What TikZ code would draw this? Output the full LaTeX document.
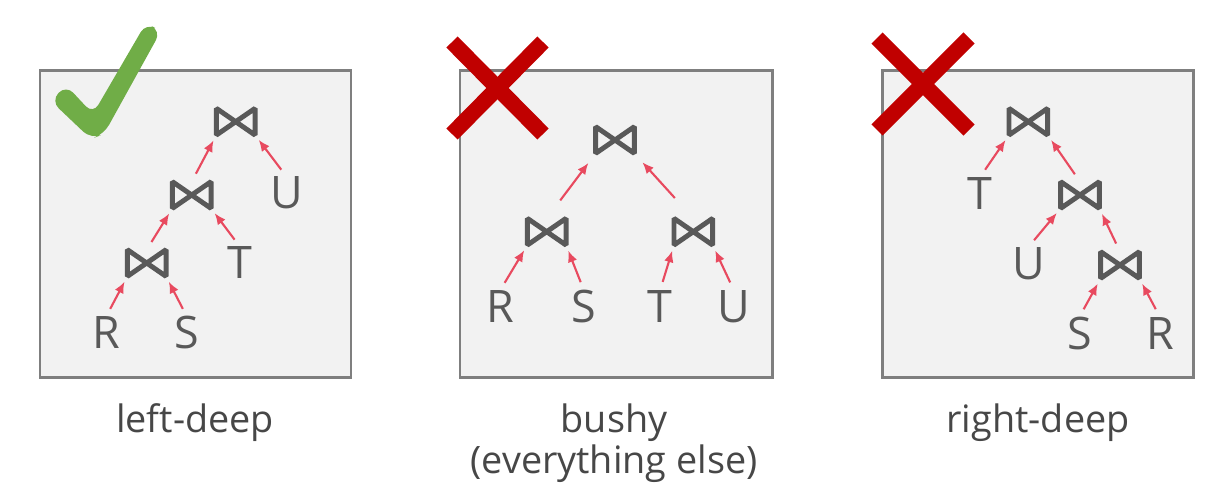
\documentclass[tikz,border=0pt]{standalone}
\usepackage{fontspec}
\setmainfont{Open Sans}
\usetikzlibrary{arrows.meta}

\definecolor{boxgray}{HTML}{F2F2F2}
\definecolor{framegray}{HTML}{7F7F7F}
\definecolor{opgray}{HTML}{595959}
\definecolor{capgray}{HTML}{474747}
\definecolor{feedred}{HTML}{E84A5F}
\definecolor{okgreen}{HTML}{70AD47}
\definecolor{badred}{HTML}{C00000}

\tikzset{
	panel/.style={fill=boxgray, draw=framegray, line width=1.7pt},
	joinop/.style={minimum width=0.76cm, minimum height=0.52cm, inner sep=0pt},
	bowtie/.style={draw=opgray, line width=2.8pt, line join=bevel},
	rel/.style={inner sep=0pt, text height=18pt, text depth=0pt, text=opgray, font=\fontsize{25.5}{26}\selectfont},
	feed/.style={draw=feedred, line width=1.2pt, -{Latex[length=6.5pt,width=5.5pt]}, shorten <=0.18cm, shorten >=0.12cm},
	caption/.style={text=capgray, font=\fontsize{21.5}{23}\selectfont, align=center},
	nope/.style={draw=badred, line width=9pt}
}

\begin{document}
\begin{tikzpicture}[x=0.02cm, y=-0.02cm]
			\useasboundingbox (0,0) rectangle (1210,495);
			\draw[panel] (40,70) rectangle (351,377);
			\draw[panel] (460,70) rectangle (772,377);
			\draw[panel] (882,70) rectangle (1193,377);
			% left-deep
			\node[joinop] (ld1) at (235.7,121.7) {};
			\node[joinop] (ld2) at (191.7,195) {};
			\node[joinop] (ld3) at (146.7,263) {};
			\node[rel] (ldR) at (106,333) {R};
			\node[rel] (ldS) at (187,333) {S};
			\node[rel] (ldT) at (240,263) {T};
			\node[rel] (ldU) at (286.7,193) {U};
			\draw[feed] (ldR.north) -- (ld3.south west);
			\draw[feed] (ldS.north) -- (ld3.south east);
			\draw[feed] (ld3.north) -- (ld2.south west);
			\draw[feed] (ldT.north) -- (ld2.south east);
			\draw[feed] (ld2.north) -- (ld1.south west);
			\draw[feed] (ldU.north) -- (ld1.south east);
			% bushy
			\node[joinop] (bu1) at (615,140) {};
			\node[joinop] (bu2) at (546.7,231.7) {};
			\node[joinop] (bu3) at (693.3,231.7) {};
			\node[rel] (buR) at (500,306.7) {R};
			\node[rel] (buS) at (584,306.7) {S};
			\node[rel] (buT) at (660,306.7) {T};
			\node[rel] (buU) at (734,306.7) {U};
			\draw[feed] (buR.north) -- (bu2.south west);
			\draw[feed] (buS.north) -- (bu2.south east);
			\draw[feed] (buT.north) -- (bu3.south west);
			\draw[feed] (buU.north) -- (bu3.south east);
			\draw[feed, shorten <=0.45cm, shorten >=0.24cm] (bu2.north) -- (bu1.south west);
			\draw[feed, shorten <=0.55cm, shorten >=0.24cm] (bu3.north) -- (bu1.south east);
			% right-deep
			\node[joinop] (rd1) at (1028.3,121.7) {};
			\node[joinop] (rd2) at (1080,195) {};
			\node[joinop] (rd3) at (1120,265) {};
			\node[rel] (rdT) at (980,193.3) {T};
			\node[rel] (rdU) at (1028.3,263.3) {U};
			\node[rel] (rdS) at (1079.3,333.3) {S};
			\node[rel] (rdR) at (1160,333.3) {R};
			\draw[feed] (rdT.north) -- (rd1.south west);
			\draw[feed] (rd2.north) -- (rd1.south east);
			\draw[feed] (rdU.north) -- (rd2.south west);
			\draw[feed] (rd3.north) -- (rd2.south east);
			\draw[feed] (rdS.north) -- (rd3.south west);
			\draw[feed] (rdR.north) -- (rd3.south east);
			% the join symbols
			\foreach \j in {ld1,ld2,ld3,bu1,bu2,bu3,rd1,rd2,rd3}
				\draw[bowtie] (\j.north west) -- (\j.south west) -- (\j.north east) -- (\j.south east) -- cycle;
			% marks
			\fill[okgreen, rounded corners=6pt] (51,101) -- (66,85) -- (93,114) -- (146,23) -- (161,31) -- (104,134) -- (91,139) -- cycle;
			\draw[nope] (452,42) -- (543,134) (543,42) -- (452,134);
			\draw[nope] (877,38) -- (969,130) (969,38) -- (877,130);
			% captions
			\node[caption, anchor=base] (capld) at (195,432) {left-deep};
			\node[caption, anchor=north] (capbu) at (614,398) {bushy\\(everything else)};
			\node[caption, anchor=base] (caprd) at (1038,432) {right-deep};
\end{tikzpicture}
\end{document}
